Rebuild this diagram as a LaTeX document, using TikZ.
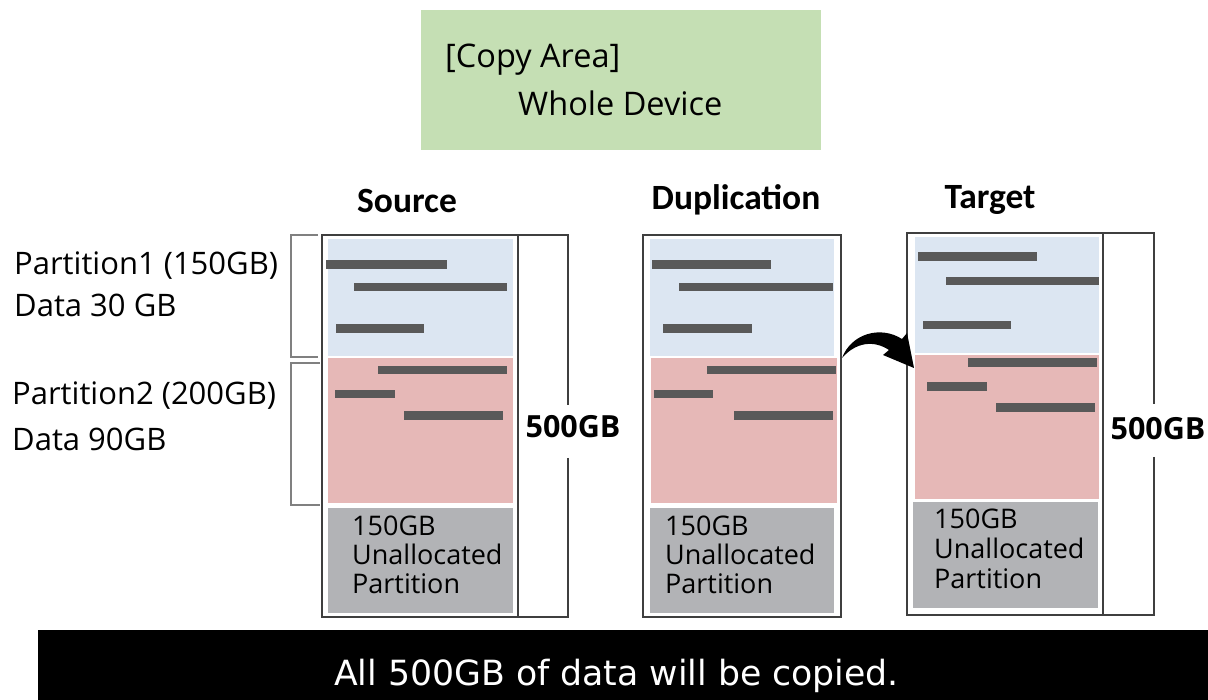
\documentclass[tikz,border=0pt]{standalone}
\usepackage{fontspec}
\newfontfamily\osans{Open Sans}
\newfontfamily\carl{Carlito}
\newfontfamily\dvs{DejaVu Sans}
\definecolor{grn}{HTML}{C5DFB4}
\definecolor{blu}{HTML}{DCE6F2}
\definecolor{rdd}{HTML}{E6B8B7}
\definecolor{gry}{HTML}{B2B3B6}
\definecolor{barc}{HTML}{595959}
\definecolor{outl}{HTML}{3F3F3F}
\definecolor{brk}{HTML}{808080}
\begin{document}
\begin{tikzpicture}[x=1pt,y=-1pt,
  outerbox/.style={draw=outl, line width=1.4pt, anchor=north west, inner sep=0, outer sep=0},
  region/.style={anchor=north west, inner sep=0, outer sep=0, draw=none},
  bar/.style={fill=barc},
  brack/.style={draw=brk, line width=1.2pt},
  lbl/.style={anchor=base west, inner sep=0, font=\osans\fontsize{31}{36}\selectfont},
  gtxt/.style={anchor=base west, inner sep=0, font=\osans\fontsize{27}{30}\selectfont},
  ttl/.style={anchor=base, inner sep=0, font=\carl\bfseries\fontsize{35.5}{40}\selectfont},
  sizelbl/.style={anchor=base, inner sep=0, font=\osans\bfseries\fontsize{30.5}{34}\selectfont},
  copytxt/.style={anchor=base west, inner sep=0, font=\osans\fontsize{32.5}{38}\selectfont}
]
\useasboundingbox (0,0) rectangle (1208,700);

% green header
\node[region, fill=grn, minimum width=400, minimum height=140] (hdr) at (421,10) {};
\node[copytxt] (hdr1) at (445,68) {[Copy Area]};
\node[copytxt] (hdr2) at (518,116) {Whole Device};

% titles
\node[ttl] (tsrc) at (407,213) {Source};
\node[ttl] (tdup) at (736,210) {Duplication};
\node[ttl] (ttgt) at (990,209) {Target};

% left labels
\node[lbl] (p1a) at (14,275) {Partition1 (150GB)};
\node[lbl] (p1b) at (14,317) {Data 30 GB};
\node[lbl] (p2a) at (12,405) {Partition2 (200GB)};
\node[lbl] (p2b) at (12,450) {Data 90GB};

% left brackets
\draw[brack] (318,235) -- (291,235) -- (291,357) -- (318,357);
\draw[brack] (320,363) -- (291,363) -- (291,505) -- (320,505);

% ---------- Source disk ----------
\node[region, fill=blu, minimum width=185, minimum height=117] (s1) at (328,239) {};
\node[region, fill=rdd, minimum width=185, minimum height=145] (s2) at (328,358) {};
\node[region, fill=gry, minimum width=185, minimum height=105] (s3) at (328,508) {};
\fill[bar] (326,260) rectangle (447,269);
\fill[bar] (354,283) rectangle (507,291);
\fill[bar] (336,324) rectangle (424,333);
\fill[bar] (378,366) rectangle (507,374);
\fill[bar] (335,390) rectangle (395,398);
\fill[bar] (404,411) rectangle (503,420);
\node[gtxt] (s3a) at (352,535) {150GB};
\node[gtxt] (s3b) at (352,564) {Unallocated};
\node[gtxt] (s3c) at (352,593) {Partition};
\node[outerbox, minimum width=196, minimum height=382] (src) at (322,235) {};
\node[sizelbl] (ssz) at (573,438) {500GB};
\coordinate (sa) at (568,405);
\coordinate (sb) at (568,458);
\draw[draw=outl, line width=1.4pt] (src.north east) -- (568,235) -- (sa);
\draw[draw=outl, line width=1.4pt] (sb) -- (568,617) -- (src.south east);

% ---------- Duplication disk ----------
\node[region, fill=blu, minimum width=184, minimum height=117] (d1) at (650,239) {};
\node[region, fill=rdd, minimum width=186, minimum height=145] (d2) at (651,358) {};
\node[region, fill=gry, minimum width=184, minimum height=105] (d3) at (650,508) {};
\fill[bar] (652,260) rectangle (771,269);
\fill[bar] (679,283) rectangle (833,291);
\fill[bar] (663,324) rectangle (752,333);
\fill[bar] (707,366) rectangle (836,374);
\fill[bar] (654,390) rectangle (713,398);
\fill[bar] (734,411) rectangle (833,420);
\node[gtxt] (d3a) at (665,535) {150GB};
\node[gtxt] (d3b) at (665,564) {Unallocated};
\node[gtxt] (d3c) at (665,593) {Partition};
\node[outerbox, minimum width=198, minimum height=382] (dup) at (643,235) {};

% ---------- Target disk ----------
\node[region, fill=blu, minimum width=184, minimum height=116] (t1) at (915,237) {};
\node[region, fill=rdd, minimum width=184, minimum height=144] (t2) at (915,355) {};
\node[region, fill=gry, minimum width=185, minimum height=106] (t3) at (913,502) {};
\fill[bar] (918,252) rectangle (1037,261);
\fill[bar] (946,277) rectangle (1099,285);
\fill[bar] (923,321) rectangle (1011,329);
\fill[bar] (968,358) rectangle (1097,367);
\fill[bar] (927,382) rectangle (987,391);
\fill[bar] (996,403) rectangle (1095,412);
\node[gtxt] (t3a) at (934,528) {150GB};
\node[gtxt] (t3b) at (934,558) {Unallocated};
\node[gtxt] (t3c) at (934,588) {Partition};
\node[outerbox, minimum width=196, minimum height=382] (tgt) at (907,233) {};
\node[sizelbl] (tsz) at (1158,440) {500GB};
\coordinate (ta) at (1154,404);
\coordinate (tb) at (1154,457);
\draw[draw=outl, line width=1.4pt] (tgt.north east) -- (1154,233) -- (ta);
\draw[draw=outl, line width=1.4pt] (tb) -- (1154,615) -- (tgt.south east);

% curved arrow
\fill[black] (842,358) .. controls (851,334) and (880,325) .. (902,339)
  -- (907,333) -- (914,368) -- (883,355) -- (889,350)
  .. controls (874,340) and (856,342) .. (842,358) -- cycle;

% bottom banner
\node[region, fill=black, minimum width=1170, minimum height=70] (ban) at (38,630) {};
\node[anchor=base, inner sep=0, text=white, font=\dvs\fontsize{34.7}{40}\selectfont] (bant) at (616.5,685) {All 500GB of data will be copied.};
\end{tikzpicture}
\end{document}
